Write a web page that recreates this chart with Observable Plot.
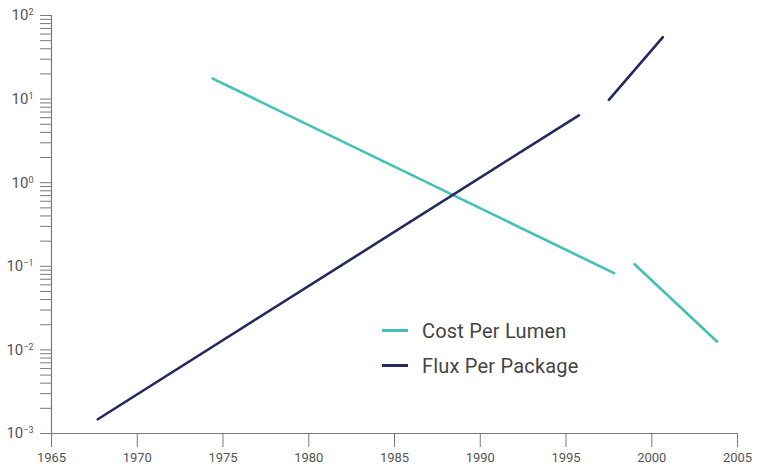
<!DOCTYPE html>
<html>
<head>
<meta charset="utf-8">
<script src="https://cdn.jsdelivr.net/npm/d3@7"></script>
<script src="https://cdn.jsdelivr.net/npm/@observablehq/plot@0.6"></script>
<style>
  html, body { margin: 0; padding: 0; background: #fff; }
  #wrap { position: relative; width: 758px; height: 467px; font-family: Roboto, "DejaVu Sans", sans-serif; }
  .legend { position: absolute; left: 382px; top: 313px; font-size: 20px; color: #444; letter-spacing: 0.2px; }
  .legend .row { display: flex; align-items: center; height: 35px; }
  .legend .sw { width: 26px; height: 3px; margin-right: 14px; }
</style>
</head>
<body>
<div id="wrap"></div>
<script>
// Series data
const costYears  = [1974.4, 1997.8, 1999.0, 2003.8];
const costValues = [17.6, 0.083, 0.106, 0.0126];
const costSegments = ["a", "a", "b", "b"];

const fluxYears  = [1967.7, 1995.75, 1997.5, 2000.65];
const fluxValues = [0.00148, 6.4, 9.8, 55];
const fluxSegments = ["a", "a", "b", "b"];

const seriesNames = ["Cost Per Lumen", "Flux Per Package"];
const seriesColors = ["#42c1b5", "#232a5f"];

// Axis ticks
const xTicks = [1965, 1970, 1975, 1980, 1985, 1990, 1995, 2000, 2005];
const decades = [-3, -2, -1, 0, 1, 2];
const yTicks = [];
decades.forEach(e => { for (let m = 1; m <= 9; m++) { if (e === 2 && m > 1) break; yTicks.push(+(m * Math.pow(10, e)).toPrecision(3)); } });
const yExponent = v => {
  const e = Math.round(Math.log10(v));
  return Math.abs(Math.pow(10, e) - v) / v > 1e-6 ? null : e;
};
const yLabel = v => { const e = yExponent(v); return e === null ? "" : "10^" + e; };

const cost = costYears.map((x, i) => ({x, y: costValues[i], seg: costSegments[i]}));
const flux = fluxYears.map((x, i) => ({x, y: fluxValues[i], seg: fluxSegments[i]}));

const axisColor = "#7a7a7a";
const chart = Plot.plot({
  width: 758,
  height: 467,
  marginLeft: 51,
  marginRight: 21,
  marginTop: 15,
  marginBottom: 34,
  style: {fontFamily: "Roboto, 'DejaVu Sans', sans-serif", fontSize: "13px", color: "#555", background: "#fff"},
  x: {domain: [1965, 2005]},
  y: {type: "log", domain: [1e-3, 1e2]},
  marks: [
    Plot.axisX({ticks: xTicks, tickFormat: d => String(d), tickSize: 14, tickPadding: 5, stroke: axisColor, label: null, fill: "#555"}),
    Plot.axisY({ticks: yTicks, tickFormat: yLabel, tickSize: 11, tickPadding: 7, stroke: axisColor, label: null, fill: "#555", fontSize: 15}),
    Plot.ruleY([1e-3], {x1: 1965, x2: 2005, stroke: axisColor, strokeWidth: 1.2}),
    Plot.ruleX([1965], {y1: 1e-3, y2: 1e2, stroke: axisColor, strokeWidth: 1.2}),
    Plot.line(cost, {x: "x", y: "y", z: "seg", stroke: seriesColors[0], strokeWidth: 2.6}),
    Plot.line(flux, {x: "x", y: "y", z: "seg", stroke: seriesColors[1], strokeWidth: 2.6})
  ]
});
// turn "10^e" labels into 10 with a superscript exponent
chart.querySelectorAll("text").forEach(t => {
  const s = t.textContent;
  const m = /^10\^(-?\d+)$/.exec(s);
  if (m) {
    t.textContent = "";
    const base = document.createElementNS("http://www.w3.org/2000/svg", "tspan");
    base.textContent = "10";
    const sup = document.createElementNS("http://www.w3.org/2000/svg", "tspan");
    sup.textContent = m[1].replace("-", "\u2212");
    sup.setAttribute("dy", "-0.55em");
    sup.setAttribute("font-size", "9");
    t.appendChild(base); t.appendChild(sup);
  }
});
const wrap = document.getElementById("wrap");
wrap.appendChild(chart);

const legend = document.createElement("div");
legend.className = "legend";
seriesNames.forEach((name, i) => {
  const row = document.createElement("div");
  row.className = "row";
  const sw = document.createElement("div");
  sw.className = "sw";
  sw.style.background = seriesColors[i];
  const t = document.createElement("span");
  t.textContent = name;
  row.appendChild(sw); row.appendChild(t);
  legend.appendChild(row);
});
wrap.appendChild(legend);
</script>
</body>
</html>
